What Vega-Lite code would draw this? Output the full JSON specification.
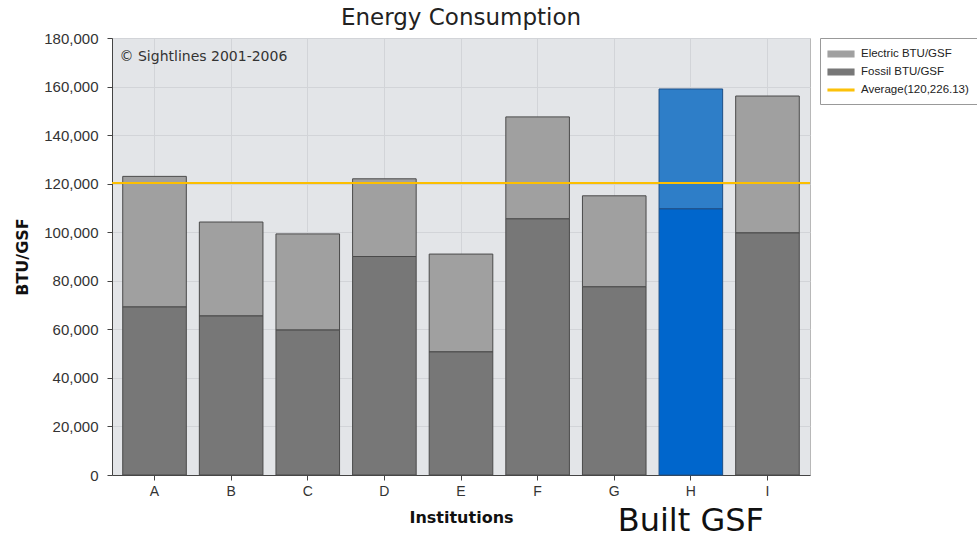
{
  "$schema": "https://vega.github.io/schema/vega-lite/v6.json",
  "autosize": {"type": "none"},
  "padding": {"left": 112, "top": 38, "right": 167, "bottom": 63},
  "width": 698,
  "height": 437,
  "background": "white",
  "title": {"text": "Energy Consumption", "font": "DejaVu Sans", "fontSize": 23, "fontWeight": "normal", "color": "#222", "offset": 1, "anchor": "middle"},
  "config": {
    "view": {"fill": "#e3e5e8", "stroke": "#b8b8b8"},
    "axis": {"labelFont": "Liberation Sans", "labelFontSize": 14, "labelColor": "#333", "titleFont": "DejaVu Sans", "titleFontSize": 16, "titleFontWeight": "bold", "titleColor": "#111", "domainColor": "#444", "tickColor": "#444", "gridColor": "#d2d4d8"},
    "legend": {
      "orient": "right", "offset": 10, "padding": 8,
      "strokeColor": "#999", "fillColor": "white",
      "labelFont": "Liberation Sans", "labelFontSize": 11.5, "labelColor": "#222", "labelLimit": 300
    }
  },
  "datasets": {
    "energy": [
      {"institution": "A", "type": "Electric BTU/GSF", "value": 53800},
      {"institution": "A", "type": "Fossil BTU/GSF", "value": 69200},
      {"institution": "B", "type": "Electric BTU/GSF", "value": 38700},
      {"institution": "B", "type": "Fossil BTU/GSF", "value": 65500},
      {"institution": "C", "type": "Electric BTU/GSF", "value": 39600},
      {"institution": "C", "type": "Fossil BTU/GSF", "value": 59700},
      {"institution": "D", "type": "Electric BTU/GSF", "value": 32000},
      {"institution": "D", "type": "Fossil BTU/GSF", "value": 90000},
      {"institution": "E", "type": "Electric BTU/GSF", "value": 40300},
      {"institution": "E", "type": "Fossil BTU/GSF", "value": 50700},
      {"institution": "F", "type": "Electric BTU/GSF", "value": 42000},
      {"institution": "F", "type": "Fossil BTU/GSF", "value": 105500},
      {"institution": "G", "type": "Electric BTU/GSF", "value": 37500},
      {"institution": "G", "type": "Fossil BTU/GSF", "value": 77500},
      {"institution": "H", "type": "Electric BTU/GSF", "value": 49400},
      {"institution": "H", "type": "Fossil BTU/GSF", "value": 109600},
      {"institution": "I", "type": "Electric BTU/GSF", "value": 56400},
      {"institution": "I", "type": "Fossil BTU/GSF", "value": 99700}
    ],
    "average": [{"type": "Average(120,226.13)", "value": 120226.13}],
    "note": [{"label": "© Sightlines 2001-2006"}],
    "caption": [{"label": "Built GSF"}]
  },
  "layer": [
    {
      "data": {"name": "energy"},
      "mark": {"type": "bar", "strokeWidth": 1},
      "encoding": {
        "x": {"field": "institution", "type": "nominal", "sort": null,
              "scale": {"paddingInner": 0.17, "paddingOuter": 0.14},
              "axis": {"title": "Institutions", "labelAngle": 0, "grid": true, "bandPosition": 0.5, "tickSize": 5, "labelPadding": 4, "titlePadding": 11, "domain": true}},
        "y": {"field": "value", "type": "quantitative", "stack": "zero",
              "scale": {"domain": [0, 180000], "nice": false},
              "axis": {"title": "BTU/GSF", "values": [0, 20000, 40000, 60000, 80000, 100000, 120000, 140000, 160000, 180000], "format": ",.0f", "labelFontSize": 15, "tickSize": 5, "labelPadding": 9, "titlePadding": 13, "grid": true}},
        "order": {"field": "type", "sort": "descending"},
        "color": {
          "field": "type", "type": "nominal",
          "scale": {"domain": ["Electric BTU/GSF", "Fossil BTU/GSF", "Average(120,226.13)"], "range": ["#a0a0a0", "#777777", "#fcbf00"]},
          "condition": [
            {"test": "datum.institution === 'H' && datum.type === 'Fossil BTU/GSF'", "value": "#0066cc"},
            {"test": "datum.institution === 'H'", "value": "#2e7ec8"}
          ],
          "legend": {
            "title": null, "symbolOffset": 5, "labelOffset": 12, "rowPadding": 4,
            "encode": {
              "symbols": {"update": {
                "shape": {"signal": "datum.value === 'Average(120,226.13)' ? 'M-1.85,-0.12H1.85V0.12H-1.85Z' : 'M-1.85,-0.42H1.85V0.42H-1.85Z'"},
                "size": {"value": 196},
                "fill": {"signal": "scale('color', datum.value)"},
                "stroke": {"signal": "datum.value === 'Average(120,226.13)' ? '#fcbf00' : '#333'"},
                "strokeWidth": {"value": 1.2},
                "opacity": {"value": 1}
              }}
            }
          }
        },
        "stroke": {"condition": {"test": "datum.institution === 'H'", "value": "#1d4f86"}, "value": "#4a4a4a"}
      }
    },
    {
      "data": {"name": "average"},
      "mark": {"type": "rule", "strokeWidth": 2},
      "encoding": {
        "y": {"field": "value", "type": "quantitative",
              "axis": {"title": "BTU/GSF", "values": [0, 20000, 40000, 60000, 80000, 100000, 120000, 140000, 160000, 180000], "format": ",.0f", "labelFontSize": 15, "tickSize": 5, "labelPadding": 9, "titlePadding": 13, "grid": true}},
        "color": {"field": "type", "type": "nominal",
          "legend": {
            "title": null, "symbolOffset": 5, "labelOffset": 12, "rowPadding": 4,
            "encode": {
              "symbols": {"update": {
                "shape": {"signal": "datum.value === 'Average(120,226.13)' ? 'M-1.85,-0.12H1.85V0.12H-1.85Z' : 'M-1.85,-0.42H1.85V0.42H-1.85Z'"},
                "size": {"value": 196},
                "fill": {"signal": "scale('color', datum.value)"},
                "stroke": {"signal": "datum.value === 'Average(120,226.13)' ? '#fcbf00' : '#333'"},
                "strokeWidth": {"value": 1.2},
                "opacity": {"value": 1}
              }}
            }
          }}
      }
    },
    {
      "data": {"name": "note"},
      "mark": {"type": "text", "font": "DejaVu Sans", "fontSize": 14, "color": "#333", "align": "left", "baseline": "middle", "dx": -35},
      "encoding": {
        "x": {"datum": "A"},
        "y": {"datum": 172000, "type": "quantitative",
              "axis": {"title": "BTU/GSF", "values": [0, 20000, 40000, 60000, 80000, 100000, 120000, 140000, 160000, 180000], "format": ",.0f", "labelFontSize": 15, "tickSize": 5, "labelPadding": 9, "titlePadding": 13, "grid": true}},
        "text": {"field": "label"}
      }
    },
    {
      "data": {"name": "caption"},
      "mark": {"type": "text", "font": "DejaVu Sans", "fontSize": 32, "color": "#111", "align": "center", "baseline": "middle"},
      "encoding": {
        "x": {"datum": "H"},
        "y": {"datum": -19000, "type": "quantitative",
              "axis": {"title": "BTU/GSF", "values": [0, 20000, 40000, 60000, 80000, 100000, 120000, 140000, 160000, 180000], "format": ",.0f", "labelFontSize": 15, "tickSize": 5, "labelPadding": 9, "titlePadding": 13, "grid": true}},
        "text": {"field": "label"}
      }
    }
  ],
  "resolve": {"scale": {"color": "shared"}}
}
